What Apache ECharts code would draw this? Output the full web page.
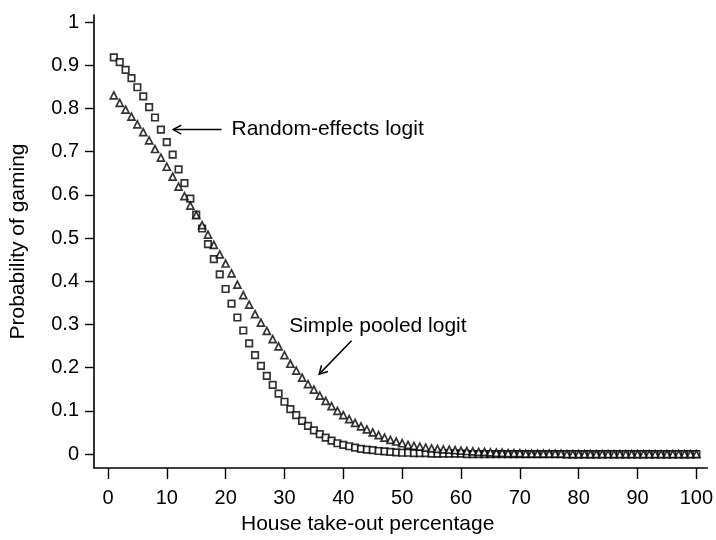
<!DOCTYPE html>
<html>
<head>
<meta charset="utf-8">
<script src="https://cdn.jsdelivr.net/npm/echarts@6/dist/echarts.min.js"></script>
<style>
  html, body { margin: 0; padding: 0; background: #ffffff; }
  #chart { width: 716px; height: 540px; }
</style>
</head>
<body>
<div id="chart"></div>
<script>
// House take-out percentage (x values of every point)
const takeout = [
  1, 2, 3, 4, 5, 6, 7, 8, 9, 10, 11, 12, 13, 14, 15, 16, 17, 18, 19, 20,
  21, 22, 23, 24, 25, 26, 27, 28, 29, 30, 31, 32, 33, 34, 35, 36, 37, 38, 39, 40,
  41, 42, 43, 44, 45, 46, 47, 48, 49, 50, 51, 52, 53, 54, 55, 56, 57, 58, 59, 60,
  61, 62, 63, 64, 65, 66, 67, 68, 69, 70, 71, 72, 73, 74, 75, 76, 77, 78, 79, 80,
  81, 82, 83, 84, 85, 86, 87, 88, 89, 90, 91, 92, 93, 94, 95, 96, 97, 98, 99, 100
];

// Predicted probability of gaming, random-effects logit
const randomEffects = [
  0.918, 0.907, 0.889, 0.870, 0.849, 0.828, 0.803, 0.779, 0.751, 0.722,
  0.693, 0.659, 0.627, 0.591, 0.554, 0.522, 0.486, 0.451, 0.416, 0.382,
  0.348, 0.316, 0.286, 0.256, 0.229, 0.204, 0.181, 0.160, 0.140, 0.121,
  0.104, 0.090, 0.077, 0.065, 0.055, 0.046, 0.038, 0.031, 0.025, 0.021,
  0.018, 0.015, 0.012, 0.010, 0.009, 0.007, 0.006, 0.005, 0.004, 0.003,
  0.003, 0.002, 0.002, 0.002, 0.001, 0.001, 0.001, 0.001, 0.001, 0.001,
  0.000, 0.000, 0.000, 0.000, 0.000, 0.000, 0.000, 0.000, 0.000, 0.000,
  0.000, 0.000, 0.000, 0.000, 0.000, 0.000, 0.000, 0.000, 0.000, 0.000,
  0.000, 0.000, 0.000, 0.000, 0.000, 0.000, 0.000, 0.000, 0.000, 0.000,
  0.000, 0.000, 0.000, 0.000, 0.000, 0.000, 0.000, 0.000, 0.000, 0.000
];

// Predicted probability of gaming, simple pooled logit
const pooled = [
  0.830, 0.813, 0.797, 0.781, 0.763, 0.745, 0.726, 0.706, 0.686, 0.665,
  0.642, 0.619, 0.597, 0.575, 0.553, 0.530, 0.508, 0.484, 0.462, 0.441,
  0.418, 0.392, 0.368, 0.346, 0.324, 0.304, 0.285, 0.266, 0.249, 0.229,
  0.209, 0.193, 0.177, 0.162, 0.149, 0.135, 0.123, 0.111, 0.100, 0.090,
  0.081, 0.072, 0.064, 0.057, 0.050, 0.044, 0.038, 0.033, 0.029, 0.025,
  0.021, 0.019, 0.017, 0.015, 0.013, 0.012, 0.011, 0.010, 0.009, 0.008,
  0.007, 0.006, 0.005, 0.005, 0.004, 0.003, 0.003, 0.002, 0.002, 0.002,
  0.001, 0.001, 0.001, 0.001, 0.001, 0.001, 0.001, 0.000, 0.000, 0.000,
  0.000, 0.000, 0.000, 0.000, 0.000, 0.000, 0.000, 0.000, 0.000, 0.000,
  0.000, 0.000, 0.000, 0.000, 0.000, 0.000, 0.000, 0.000, 0.000, 0.000
];

// Tick values
const xTicks = [0, 10, 20, 30, 40, 50, 60, 70, 80, 90, 100];
const yTicks = [0, 0.1, 0.2, 0.3, 0.4, 0.5, 0.6, 0.7, 0.8, 0.9, 1];

// Callout labels with their arrows, in data coordinates
const calloutText = ['Random-effects logit', 'Simple pooled logit'];
const calloutAnchor = [[21.0, 0.751], [30.8, 0.296]];
const arrowTail = [[19.3, 0.751], [41.4, 0.262]];
const arrowHead = [[11.1, 0.751], [35.9, 0.185]];

const FONT = '"Liberation Sans", Arial, Helvetica, sans-serif';

const chart = echarts.init(document.getElementById('chart'), null, { renderer: 'canvas' });

const pairs = (ys) => takeout.map((x, i) => [x, ys[i]]);

const markerStyle = {
  color: '#ffffff',
  borderColor: '#000000',
  borderWidth: 1.7
};

chart.setOption({
  animation: false,
  backgroundColor: '#ffffff',
  grid: { left: 92, right: 8, top: 15, bottom: 71, containLabel: false },
  xAxis: {
    type: 'value',
    min: -2.37,
    max: 101.86,
    name: 'House take-out percentage',
    nameLocation: 'middle',
    nameGap: 46,
    nameTextStyle: { fontFamily: FONT, fontSize: 21, color: '#000', padding: [0, 66, 0, 0] },
    axisLine: { onZero: false, lineStyle: { color: '#000', width: 1.6 } },
    axisTick: { customValues: xTicks, length: 11, lineStyle: { color: '#000', width: 1.4 } },
    axisLabel: {
      customValues: xTicks,
      margin: 20,
      fontFamily: FONT, fontSize: 20, color: '#000'
    },
    splitLine: { show: false }
  },
  yAxis: {
    type: 'value',
    min: -0.0323,
    max: 1.0162,
    name: 'Probability of gaming',
    nameLocation: 'middle',
    nameGap: 65,
    nameTextStyle: { fontFamily: FONT, fontSize: 21, color: '#000' },
    axisLine: { onZero: false, lineStyle: { color: '#000', width: 1.6 } },
    axisTick: { customValues: yTicks, length: 9, lineStyle: { color: '#000', width: 1.4 } },
    axisLabel: {
      customValues: yTicks,
      margin: 15,
      fontFamily: FONT, fontSize: 20, color: '#000',
      formatter: (v) => String(v)
    },
    splitLine: { show: false }
  },
  series: [
    {
      name: 'Random-effects logit',
      type: 'scatter',
      data: pairs(randomEffects),
      symbol: 'rect',
      symbolSize: 6.5,
      itemStyle: markerStyle,
      emphasis: { disabled: true }
    },
    {
      name: 'Simple pooled logit',
      type: 'scatter',
      data: pairs(pooled),
      symbol: 'triangle',
      symbolSize: 7,
      itemStyle: markerStyle,
      emphasis: { disabled: true }
    }
  ]
});

// Callout texts and open-headed arrows, placed through the grid's scales
function toPx(p) { return chart.convertToPixel({ gridIndex: 0 }, p); }

const graphics = [];
calloutText.forEach((txt, i) => {
  const a = toPx(calloutAnchor[i]);
  graphics.push({
    type: 'text', x: a[0], y: a[1], silent: true,
    style: { text: txt, font: '21px ' + FONT, fill: '#000', verticalAlign: 'middle', align: 'left' }
  });
  const t = toPx(arrowTail[i]);
  const h = toPx(arrowHead[i]);
  const dx = t[0] - h[0], dy = t[1] - h[1];
  const len = Math.sqrt(dx * dx + dy * dy);
  const ux = dx / len, uy = dy / len;
  const headLen = 8, headHalf = 4.5;
  const b1 = [h[0] + ux * headLen - uy * headHalf, h[1] + uy * headLen + ux * headHalf];
  const b2 = [h[0] + ux * headLen + uy * headHalf, h[1] + uy * headLen - ux * headHalf];
  graphics.push({
    type: 'line', silent: true,
    shape: { x1: t[0], y1: t[1], x2: h[0], y2: h[1] },
    style: { stroke: '#000', lineWidth: 1.5 }
  });
  graphics.push({
    type: 'polyline', silent: true,
    shape: { points: [b1, h, b2] },
    style: { stroke: '#000', lineWidth: 1.5, fill: null }
  });
});
chart.setOption({ graphic: graphics });
</script>
</body>
</html>
